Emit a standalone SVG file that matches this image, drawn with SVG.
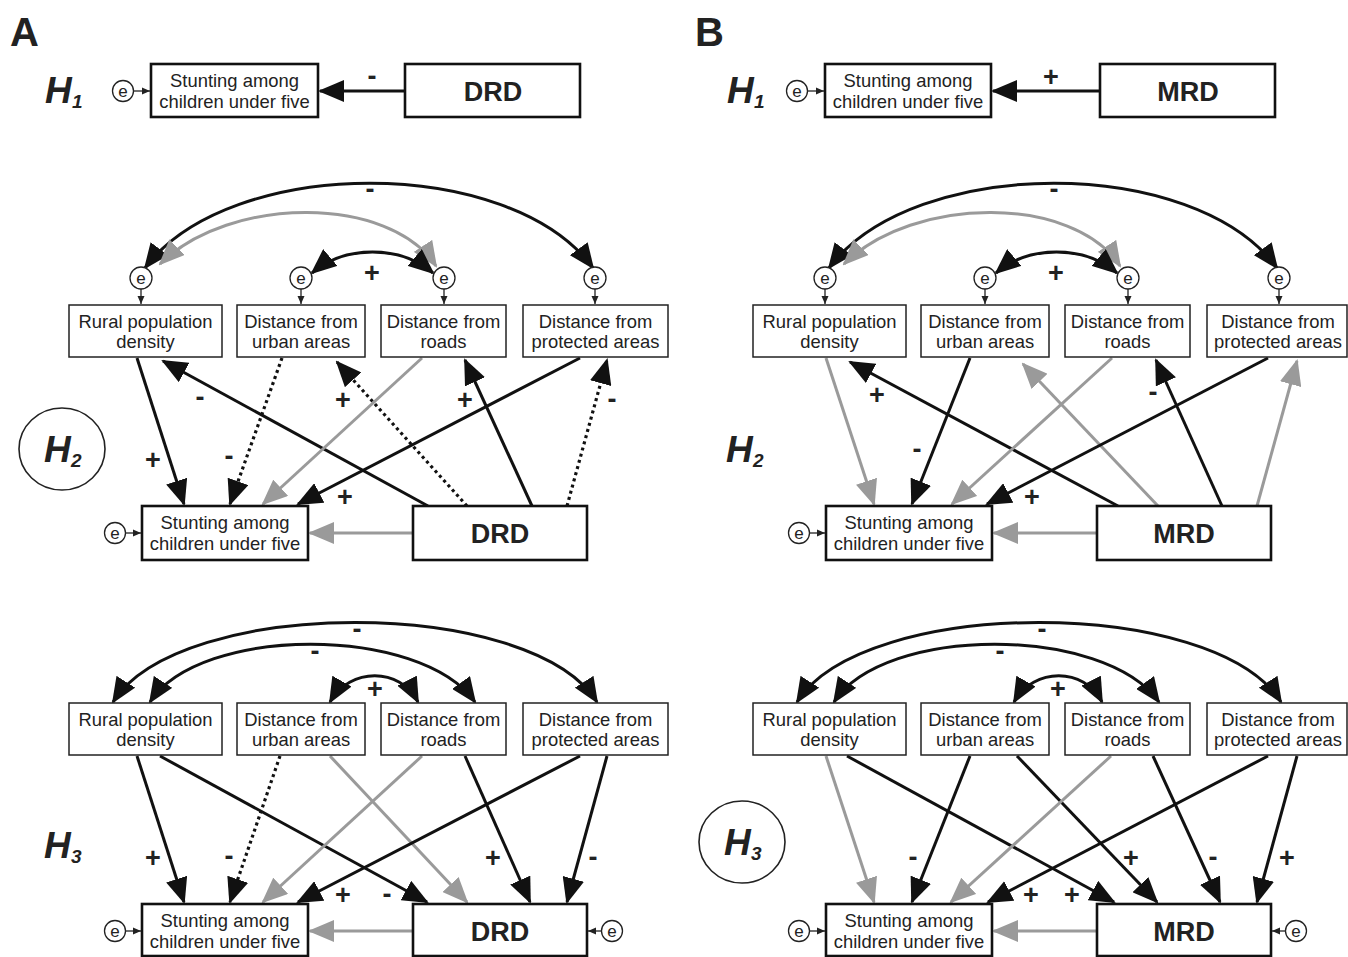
<svg xmlns="http://www.w3.org/2000/svg" width="1348" height="957" viewBox="0 0 1348 957">
<defs>
<style>
.bx{fill:#fff;stroke:#222;stroke-width:1.5}
.bk{fill:#fff;stroke:#111;stroke-width:2.6}
.t{font-family:"Liberation Sans",Arial,sans-serif;font-size:18.4px;fill:#222;text-anchor:middle}
.tb{font-family:"Liberation Sans",Arial,sans-serif;font-size:27px;font-weight:bold;fill:#222;text-anchor:middle}
.lb{font-family:"Liberation Sans",Arial,sans-serif;font-size:27px;font-weight:bold;fill:#222;text-anchor:middle}
.pl{font-family:"Liberation Sans",Arial,sans-serif;font-size:40px;font-weight:bold;fill:#222}
.h{font-family:"Liberation Sans",Arial,sans-serif;font-size:37px;font-weight:bold;font-style:italic;fill:#222}
.hs{font-family:"Liberation Sans",Arial,sans-serif;font-size:19px;font-weight:bold;font-style:italic;fill:#222}
.ec{fill:#fff;stroke:#222;stroke-width:1.3}
.et{font-family:"Liberation Sans",Arial,sans-serif;font-size:17px;fill:#222;text-anchor:middle}
.ea{stroke:#222;stroke-width:1.3;fill:none;marker-end:url(#as)}
.c{stroke:#111;stroke-width:3;fill:none;marker-end:url(#ak)}
.g{stroke:#9a9a9a;stroke-width:3;fill:none;marker-end:url(#ag)}
.d{stroke:#111;stroke-width:3.2;stroke-dasharray:3 3.4;fill:none;marker-end:url(#ak)}
.cb{stroke:#111;stroke-width:3;fill:none;marker-start:url(#ak);marker-end:url(#ak)}
.gb{stroke:#9a9a9a;stroke-width:3;fill:none;marker-start:url(#ag);marker-end:url(#ag)}
</style>
<marker id="ak" viewBox="0 0 26 22" refX="24" refY="11" markerWidth="26" markerHeight="22" markerUnits="userSpaceOnUse" orient="auto-start-reverse"><path d="M0,0 L26,11 L0,22 z" fill="#111"/></marker>
<marker id="ag" viewBox="0 0 26 22" refX="24" refY="11" markerWidth="26" markerHeight="22" markerUnits="userSpaceOnUse" orient="auto-start-reverse"><path d="M0,0 L26,11 L0,22 z" fill="#9a9a9a"/></marker>
<marker id="as" viewBox="0 0 8 8" refX="8" refY="4" markerWidth="8" markerHeight="8" markerUnits="userSpaceOnUse" orient="auto"><path d="M0,0.5 L8,4 L0,7.5 z" fill="#222"/></marker>
</defs>
<rect width="1348" height="957" fill="#fff"/>

<text class="pl" x="10" y="46">A</text>
<text class="pl" x="695" y="46">B</text>

<!-- A H1 -->
<g id="A-H1-label"><text class="h" x="45" y="103">H</text><text class="hs" x="72" y="108">1</text></g>
<g id="A-H1-e"><circle class="ec" cx="123" cy="91" r="10.5"/><text class="et" x="123" y="96.5">e</text><line class="ea" x1="133.5" y1="91" x2="150" y2="91"/></g>
<g id="A-H1-stunting"><rect class="bk" x="151" y="64" width="167" height="53"/><text class="t" x="234.5" y="87">Stunting among</text><text class="t" x="234.5" y="108">children under five</text></g>
<g id="A-H1-DRD"><rect class="bk" x="405" y="64" width="175" height="53"/><text class="tb" x="493" y="101">DRD</text></g>
<g id="A-H1-connectors"><line class="c" x1="404" y1="91" x2="320" y2="91"/><text class="lb" x="372" y="85">-</text></g>

<!-- B H1 -->
<g id="B-H1-label"><text class="h" x="727" y="103">H</text><text class="hs" x="754" y="108">1</text></g>
<g id="B-H1-e"><circle class="ec" cx="797" cy="91" r="10.5"/><text class="et" x="797" y="96.5">e</text><line class="ea" x1="807.5" y1="91" x2="824" y2="91"/></g>
<g id="B-H1-stunting"><rect class="bk" x="825" y="64" width="166" height="53"/><text class="t" x="908" y="87">Stunting among</text><text class="t" x="908" y="108">children under five</text></g>
<g id="B-H1-MRD"><rect class="bk" x="1100" y="64" width="175" height="53"/><text class="tb" x="1188" y="101">MRD</text></g>
<g id="B-H1-connectors"><line class="c" x1="1099" y1="91" x2="993" y2="91"/><text class="lb" x="1051" y="86">+</text></g>

<!-- A H2 -->
<g id="A-H2">
<g id="A-H2-connectors">
<path class="cb" d="M145,268 C230,155 510,155 593,268"/>
<path class="gb" d="M160,264 C230,195 390,195 436,266"/>
<path class="cb" d="M312,273 C345,245 400,245 433,273"/>
<line class="c" x1="137" y1="358" x2="184" y2="504"/>
<line class="c" x1="428" y1="506" x2="163" y2="361"/>
<line class="d" x1="282" y1="358" x2="230" y2="504"/>
<line class="d" x1="467" y1="506" x2="337" y2="362"/>
<line class="g" x1="422" y1="358" x2="263" y2="504"/>
<line class="c" x1="532" y1="506" x2="465" y2="360"/>
<line class="c" x1="580" y1="358" x2="298" y2="504"/>
<line class="d" x1="567" y1="506" x2="607" y2="360"/>
<line class="g" x1="412" y1="533" x2="310" y2="533"/>
<text class="lb" x="370" y="198">-</text>
<text class="lb" x="372" y="282">+</text>
<text class="lb" x="200" y="406">-</text>
<text class="lb" x="153" y="469">+</text>
<text class="lb" x="229" y="465">-</text>
<text class="lb" x="343" y="409">+</text>
<text class="lb" x="465" y="409">+</text>
<text class="lb" x="612" y="408">-</text>
<text class="lb" x="345" y="506">+</text>
</g>
<g id="A-H2-label"><ellipse cx="62" cy="449" rx="43" ry="41" fill="none" stroke="#222" stroke-width="1.6"/><text class="h" x="44" y="462">H</text><text class="hs" x="71" y="467">2</text></g>
<g id="A-H2-rural"><circle class="ec" cx="141" cy="278" r="11"/><text class="et" x="141" y="283.5">e</text><line class="ea" x1="141" y1="289" x2="141" y2="304"/><rect class="bx" x="69" y="305" width="153" height="52"/><text class="t" x="145.5" y="328">Rural population</text><text class="t" x="145.5" y="348">density</text></g>
<g id="A-H2-urban"><circle class="ec" cx="301" cy="278" r="11"/><text class="et" x="301" y="283.5">e</text><line class="ea" x1="301" y1="289" x2="301" y2="304"/><rect class="bx" x="237" y="305" width="128" height="52"/><text class="t" x="301" y="328">Distance from</text><text class="t" x="301" y="348">urban areas</text></g>
<g id="A-H2-roads"><circle class="ec" cx="444" cy="278" r="11"/><text class="et" x="444" y="283.5">e</text><line class="ea" x1="444" y1="289" x2="444" y2="304"/><rect class="bx" x="381" y="305" width="125" height="52"/><text class="t" x="443.5" y="328">Distance from</text><text class="t" x="443.5" y="348">roads</text></g>
<g id="A-H2-protected"><circle class="ec" cx="595" cy="278" r="11"/><text class="et" x="595" y="283.5">e</text><line class="ea" x1="595" y1="289" x2="595" y2="304"/><rect class="bx" x="523" y="305" width="145" height="52"/><text class="t" x="595.5" y="328">Distance from</text><text class="t" x="595.5" y="348">protected areas</text></g>
<g id="A-H2-stunting"><circle class="ec" cx="115" cy="533" r="10.5"/><text class="et" x="115" y="538.5">e</text><line class="ea" x1="125.5" y1="533" x2="141" y2="533"/><rect class="bk" x="142" y="506" width="166" height="54"/><text class="t" x="225" y="529">Stunting among</text><text class="t" x="225" y="550">children under five</text></g>
<g id="A-H2-DRD"><rect class="bk" x="413" y="506" width="174" height="54"/><text class="tb" x="500" y="543">DRD</text></g>
</g>

<!-- A H3 -->
<g id="A-H3">
<g id="A-H3-connectors">
<path class="cb" d="M113,702 C180,596 530,596 597,702"/>
<path class="cb" d="M150,702 C200,625 420,625 475,702"/>
<path class="cb" d="M330,702 C350,667 400,667 418,702"/>
<line class="c" x1="137" y1="756" x2="184" y2="902"/>
<line class="c" x1="160" y1="756" x2="427" y2="902"/>
<line class="d" x1="280" y1="756" x2="230" y2="902"/>
<line class="g" x1="330" y1="756" x2="467" y2="902"/>
<line class="g" x1="422" y1="756" x2="263" y2="902"/>
<line class="c" x1="465" y1="756" x2="530" y2="902"/>
<line class="c" x1="580" y1="756" x2="298" y2="902"/>
<line class="c" x1="607" y1="756" x2="567" y2="902"/>
<line class="g" x1="412" y1="931" x2="310" y2="931"/>
<text class="lb" x="357" y="638">-</text>
<text class="lb" x="315" y="660">-</text>
<text class="lb" x="375" y="698">+</text>
<text class="lb" x="153" y="867">+</text>
<text class="lb" x="229" y="865">-</text>
<text class="lb" x="493" y="867">+</text>
<text class="lb" x="593" y="866">-</text>
<text class="lb" x="343" y="904">+</text>
<text class="lb" x="387" y="903">-</text>
</g>
<g id="A-H3-label"><text class="h" x="44" y="858">H</text><text class="hs" x="71" y="863">3</text></g>
<g id="A-H3-rural"><rect class="bx" x="69" y="703" width="153" height="52"/><text class="t" x="145.5" y="726">Rural population</text><text class="t" x="145.5" y="746">density</text></g>
<g id="A-H3-urban"><rect class="bx" x="237" y="703" width="128" height="52"/><text class="t" x="301" y="726">Distance from</text><text class="t" x="301" y="746">urban areas</text></g>
<g id="A-H3-roads"><rect class="bx" x="381" y="703" width="125" height="52"/><text class="t" x="443.5" y="726">Distance from</text><text class="t" x="443.5" y="746">roads</text></g>
<g id="A-H3-protected"><rect class="bx" x="523" y="703" width="145" height="52"/><text class="t" x="595.5" y="726">Distance from</text><text class="t" x="595.5" y="746">protected areas</text></g>
<g id="A-H3-stunting"><circle class="ec" cx="115" cy="931" r="10.5"/><text class="et" x="115" y="936.5">e</text><line class="ea" x1="125.5" y1="931" x2="141" y2="931"/><rect class="bk" x="142" y="904" width="166" height="52"/><text class="t" x="225" y="927">Stunting among</text><text class="t" x="225" y="948">children under five</text></g>
<g id="A-H3-DRD"><circle class="ec" cx="612" cy="931" r="10.5"/><text class="et" x="612" y="936.5">e</text><line class="ea" x1="601.5" y1="931" x2="588" y2="931"/><rect class="bk" x="413" y="904" width="174" height="52"/><text class="tb" x="500" y="941">DRD</text></g>
</g>

<!-- B H2 -->
<g id="B-H2" transform="translate(684,0)">
<g id="B-H2-connectors">
<path class="cb" d="M145,268 C230,155 510,155 593,268"/>
<path class="gb" d="M160,264 C230,195 390,195 436,266"/>
<path class="cb" d="M312,273 C345,245 400,245 433,273"/>
<line class="g" x1="142" y1="358" x2="190" y2="504"/>
<line class="c" x1="434" y1="506" x2="166" y2="362"/>
<line class="c" x1="286" y1="358" x2="228" y2="504"/>
<line class="g" x1="474" y1="506" x2="339" y2="364"/>
<line class="g" x1="428" y1="358" x2="268" y2="504"/>
<line class="c" x1="538" y1="506" x2="472" y2="360"/>
<line class="c" x1="584" y1="358" x2="303" y2="504"/>
<line class="g" x1="573" y1="506" x2="613" y2="361"/>
<line class="g" x1="412" y1="533" x2="310" y2="533"/>
<text class="lb" x="370" y="198">-</text>
<text class="lb" x="372" y="282">+</text>
<text class="lb" x="193" y="404">+</text>
<text class="lb" x="233" y="458">-</text>
<text class="lb" x="469" y="401">-</text>
<text class="lb" x="348" y="506">+</text>
</g>
<g id="B-H2-label"><text class="h" x="42" y="462">H</text><text class="hs" x="69" y="467">2</text></g>
<g id="B-H2-rural"><circle class="ec" cx="141" cy="278" r="11"/><text class="et" x="141" y="283.5">e</text><line class="ea" x1="141" y1="289" x2="141" y2="304"/><rect class="bx" x="69" y="305" width="153" height="52"/><text class="t" x="145.5" y="328">Rural population</text><text class="t" x="145.5" y="348">density</text></g>
<g id="B-H2-urban"><circle class="ec" cx="301" cy="278" r="11"/><text class="et" x="301" y="283.5">e</text><line class="ea" x1="301" y1="289" x2="301" y2="304"/><rect class="bx" x="237" y="305" width="128" height="52"/><text class="t" x="301" y="328">Distance from</text><text class="t" x="301" y="348">urban areas</text></g>
<g id="B-H2-roads"><circle class="ec" cx="444" cy="278" r="11"/><text class="et" x="444" y="283.5">e</text><line class="ea" x1="444" y1="289" x2="444" y2="304"/><rect class="bx" x="381" y="305" width="125" height="52"/><text class="t" x="443.5" y="328">Distance from</text><text class="t" x="443.5" y="348">roads</text></g>
<g id="B-H2-protected"><circle class="ec" cx="595" cy="278" r="11"/><text class="et" x="595" y="283.5">e</text><line class="ea" x1="595" y1="289" x2="595" y2="304"/><rect class="bx" x="523" y="305" width="140" height="52"/><text class="t" x="594" y="328">Distance from</text><text class="t" x="594" y="348">protected areas</text></g>
<g id="B-H2-stunting"><circle class="ec" cx="115" cy="533" r="10.5"/><text class="et" x="115" y="538.5">e</text><line class="ea" x1="125.5" y1="533" x2="141" y2="533"/><rect class="bk" x="142" y="506" width="166" height="54"/><text class="t" x="225" y="529">Stunting among</text><text class="t" x="225" y="550">children under five</text></g>
<g id="B-H2-MRD"><rect class="bk" x="413" y="506" width="174" height="54"/><text class="tb" x="500" y="543">MRD</text></g>
</g>

<!-- B H3 -->
<g id="B-H3" transform="translate(684,0)">
<g id="B-H3-connectors">
<path class="cb" d="M113,702 C180,596 530,596 597,702"/>
<path class="cb" d="M150,702 C200,625 420,625 475,702"/>
<path class="cb" d="M330,702 C350,667 400,667 418,702"/>
<line class="g" x1="142" y1="756" x2="190" y2="902"/>
<line class="c" x1="163" y1="756" x2="430" y2="902"/>
<line class="c" x1="286" y1="756" x2="228" y2="902"/>
<line class="c" x1="333" y1="756" x2="473" y2="902"/>
<line class="g" x1="427" y1="756" x2="267" y2="902"/>
<line class="c" x1="469" y1="756" x2="536" y2="902"/>
<line class="c" x1="584" y1="756" x2="304" y2="902"/>
<line class="c" x1="613" y1="756" x2="573" y2="902"/>
<line class="g" x1="412" y1="931" x2="310" y2="931"/>
<text class="lb" x="358" y="638">-</text>
<text class="lb" x="316" y="660">-</text>
<text class="lb" x="374" y="698">+</text>
<text class="lb" x="229" y="866">-</text>
<text class="lb" x="447" y="867">+</text>
<text class="lb" x="529" y="866">-</text>
<text class="lb" x="603" y="867">+</text>
<text class="lb" x="347" y="904">+</text>
<text class="lb" x="388" y="904">+</text>
</g>
<g id="B-H3-label"><ellipse cx="58" cy="842" rx="43" ry="41" fill="none" stroke="#222" stroke-width="1.6"/><text class="h" x="40" y="855">H</text><text class="hs" x="67" y="860">3</text></g>
<g id="B-H3-rural"><rect class="bx" x="69" y="703" width="153" height="52"/><text class="t" x="145.5" y="726">Rural population</text><text class="t" x="145.5" y="746">density</text></g>
<g id="B-H3-urban"><rect class="bx" x="237" y="703" width="128" height="52"/><text class="t" x="301" y="726">Distance from</text><text class="t" x="301" y="746">urban areas</text></g>
<g id="B-H3-roads"><rect class="bx" x="381" y="703" width="125" height="52"/><text class="t" x="443.5" y="726">Distance from</text><text class="t" x="443.5" y="746">roads</text></g>
<g id="B-H3-protected"><rect class="bx" x="523" y="703" width="140" height="52"/><text class="t" x="594" y="726">Distance from</text><text class="t" x="594" y="746">protected areas</text></g>
<g id="B-H3-stunting"><circle class="ec" cx="115" cy="931" r="10.5"/><text class="et" x="115" y="936.5">e</text><line class="ea" x1="125.5" y1="931" x2="141" y2="931"/><rect class="bk" x="142" y="904" width="166" height="52"/><text class="t" x="225" y="927">Stunting among</text><text class="t" x="225" y="948">children under five</text></g>
<g id="B-H3-MRD"><circle class="ec" cx="612" cy="931" r="10.5"/><text class="et" x="612" y="936.5">e</text><line class="ea" x1="601.5" y1="931" x2="588" y2="931"/><rect class="bk" x="413" y="904" width="174" height="52"/><text class="tb" x="500" y="941">MRD</text></g>
</g>
</svg>
